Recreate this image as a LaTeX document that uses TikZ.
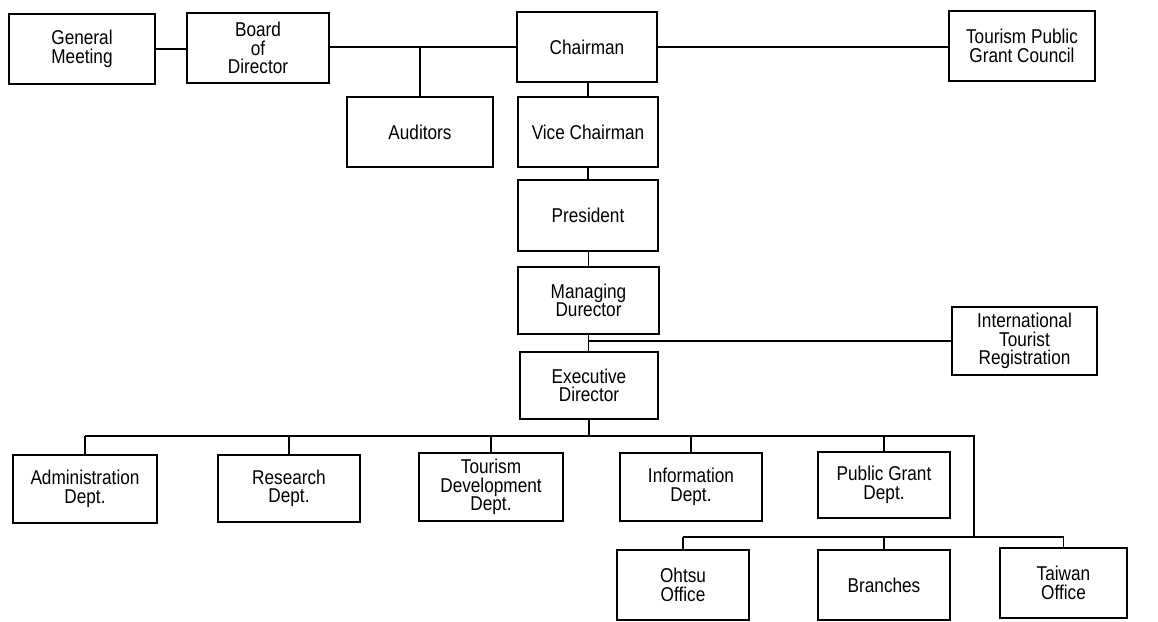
\documentclass[tikz,border=0pt]{standalone}
\usepackage{fontspec}
\setmainfont{Liberation Sans}[FakeStretch=0.86]
\begin{document}
\begin{tikzpicture}[x=1pt,y=-1pt,
  box/.style={draw=black, line width=2.5pt, fill=white, rectangle, inner sep=0pt,
    align=center, font=\fontsize{20}{18.5}\selectfont},
  thinbox/.style={box, line width=1.2pt},
  conn/.style={draw=black, line width=1.3pt}]
\useasboundingbox (0,0) rectangle (1158,621);
% top row
\node[box, minimum width=146pt, minimum height=70pt] (gm) at (82,49) {General\\Meeting};
\node[box, minimum width=142pt, minimum height=70pt] (bod) at (258,48) {Board\\of\\Director};
\node[box, minimum width=140pt, minimum height=70pt] (ch) at (587,47) {Chairman};
\node[box, minimum width=146pt, minimum height=70pt] (tpgc) at (1022,46) {Tourism Public\\Grant Council};
% column
\node[box, minimum width=146pt, minimum height=70pt] (aud) at (420,132) {Auditors};
\node[box, minimum width=140pt, minimum height=70pt] (vc) at (588,132) {Vice Chairman};
\node[box, minimum width=140pt, minimum height=71pt] (pres) at (588,215.5) {President};
\node[box, minimum width=141pt, minimum height=67pt] (md) at (588.5,300.5) {Managing\\Durector};
\node[box, minimum width=145pt, minimum height=68pt] (itr) at (1024.5,341) {International\\Tourist\\Registration};
\node[thinbox, minimum width=138pt, minimum height=67pt] (ed) at (589,385.5) {Executive\\Director};
% departments
\node[box, minimum width=144pt, minimum height=68pt] (adm) at (85,489) {Administration\\Dept.};
\node[box, minimum width=142pt, minimum height=67pt] (res) at (289,488.5) {Research\\Dept.};
\node[box, minimum width=144pt, minimum height=68pt] (tdev) at (491,487) {Tourism\\Development\\Dept.};
\node[box, minimum width=142pt, minimum height=68pt] (info) at (691,487) {Information\\Dept.};
\node[box, minimum width=132pt, minimum height=66pt] (pg) at (884,485) {Public Grant\\Dept.};
% offices
\node[box, minimum width=132pt, minimum height=70pt] (oh) at (683,585) {Ohtsu\\Office};
\node[box, minimum width=132pt, minimum height=70pt] (br) at (884,585) {Branches};
\node[box, minimum width=127pt, minimum height=70pt] (tw) at (1063.5,583) {Taiwan\\Office};
% junction coordinates
\coordinate (audj) at (aud.north |- ch.west);
\coordinate (itrj) at (md.south |- itr.west);
\coordinate (bus) at (589,436);
\coordinate (busL) at (adm.north |- bus);
\coordinate (busR) at (974,436);
\coordinate (low) at (974,537);
\coordinate (lowL) at (oh.north |- low);
\coordinate (lowR) at (tw.north |- low);
% connectors
\draw[conn] (gm.east) -- (gm.east -| bod.west);
\draw[conn] (bod.east |- ch.west) -- (ch.west);
\draw[conn] (ch.east) -- (ch.east -| tpgc.west);
\draw[conn] (audj) -- (aud.north);
\draw[conn] (vc.north |- ch.south) -- (vc.north);
\draw[conn] (vc.south) -- (pres.north);
\draw[conn] (md.north |- pres.south) -- (md.north);
\draw[conn] (md.south) -- (ed.north -| md.south);
\draw[conn] (itrj) -- (itr.west);
\draw[conn] (ed.south) -- (bus);
\draw[conn] (busL) -- (busR) -- (low);
\draw[conn] (busL) -- (adm.north);
\draw[conn] (res.north |- bus) -- (res.north);
\draw[conn] (tdev.north |- bus) -- (tdev.north);
\draw[conn] (info.north |- bus) -- (info.north);
\draw[conn] (pg.north |- bus) -- (pg.north);
\draw[conn] (lowL) -- (lowR);
\draw[conn] (lowL) -- (oh.north);
\draw[conn] (br.north |- low) -- (br.north);
\draw[conn] (lowR) -- (tw.north);
\end{tikzpicture}
\end{document}
